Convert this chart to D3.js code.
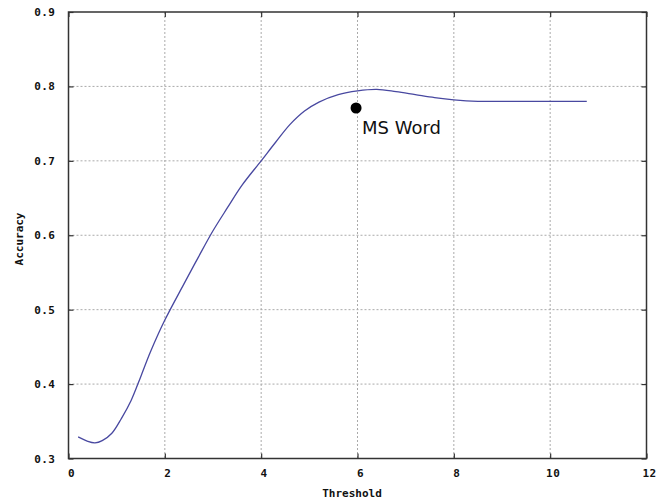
<!DOCTYPE html>
<html>
<head>
<meta charset="utf-8">
<script src="https://cdn.jsdelivr.net/npm/d3@7"></script>
<style>
  body { margin: 0; background: #fff; }
  .tick text { font-family: "DejaVu Sans Mono", monospace; font-weight: bold; font-size: 11px; fill: #111; letter-spacing: 0.5px; }
  .axis-label { font-family: "DejaVu Sans Mono", monospace; font-weight: bold; font-size: 11px; fill: #111; }
</style>
</head>
<body>
<div id="chart"></div>
<script>
// threshold vs accuracy
const thresholds = [0.2, 0.4, 0.55, 0.7, 0.9, 1.1, 1.3, 1.5, 1.7, 2.0, 2.4, 2.7, 3.0, 3.3, 3.6, 4.0,
                    4.3, 4.6, 4.9, 5.2, 5.6, 6.0, 6.4, 6.8, 7.2, 7.6, 8.0, 8.5, 9.0, 10.76];
const accuracy = [0.329, 0.323, 0.321, 0.324, 0.334, 0.354, 0.378, 0.410, 0.443, 0.486, 0.535, 0.571, 0.606,
                  0.637, 0.667, 0.700, 0.725, 0.749, 0.767, 0.779, 0.789, 0.794, 0.796, 0.793, 0.789, 0.785,
                  0.782, 0.780, 0.780, 0.780];

const msWord = { x: 5.97, y: 0.771, label: 'MS Word' };

const xTicks = [0, 2, 4, 6, 8, 10, 12];
const yTicks = [0.3, 0.4, 0.5, 0.6, 0.7, 0.8, 0.9];

const width = 670, height = 499;
const margins = { top: 12, right: 23.5, bottom: 40.5, left: 68.5 };
const plotWidth = width - margins.left - margins.right;
const plotHeight = height - margins.top - margins.bottom;

const svg = d3.select('#chart').append('svg')
    .attr('width', width)
    .attr('height', height);

const plotArea = svg.append('g')
    .attr('transform', `translate(${margins.left},${margins.top})`);

const x = d3.scaleLinear().domain([0, 12]).range([0, plotWidth]);
const y = d3.scaleLinear().domain([0.3, 0.9]).range([plotHeight, 0]);

// dotted grid
plotArea.append('g')
    .selectAll('line.vgrid')
    .data(xTicks.slice(1, -1))
    .join('line')
    .attr('x1', d => x(d)).attr('x2', d => x(d))
    .attr('y1', 0).attr('y2', plotHeight)
    .attr('stroke', '#aaa')
    .attr('stroke-dasharray', '2,2');

plotArea.append('g')
    .selectAll('line.hgrid')
    .data(yTicks.slice(1, -1))
    .join('line')
    .attr('x1', 0).attr('x2', plotWidth)
    .attr('y1', d => y(d)).attr('y2', d => y(d))
    .attr('stroke', '#aaa')
    .attr('stroke-dasharray', '2,2');

// axes with inward ticks, mirrored on top / right
const bottomAxis = plotArea.append('g')
    .attr('transform', `translate(0,${plotHeight})`)
    .call(d3.axisBottom(x).tickValues(xTicks).tickSize(-5).tickPadding(11).tickFormat(d3.format('d')));
bottomAxis.selectAll('.tick text').attr('dx', '2.5');

plotArea.append('g')
    .call(d3.axisLeft(y).tickValues(yTicks).tickSize(-5).tickPadding(13).tickFormat(d3.format('.1f')));

plotArea.append('g')
    .call(d3.axisTop(x).tickValues(xTicks).tickSize(-5).tickFormat(''));

plotArea.append('g')
    .attr('transform', `translate(${plotWidth},0)`)
    .call(d3.axisRight(y).tickValues(yTicks).tickSize(-5).tickFormat(''));

plotArea.selectAll('.domain').remove();
plotArea.selectAll('.tick line').attr('stroke', '#333').attr('stroke-width', 1.2);

plotArea.append('rect')
    .attr('width', plotWidth)
    .attr('height', plotHeight)
    .attr('fill', 'none')
    .attr('stroke', '#333')
    .attr('stroke-width', 1.5);

// curve
const line = d3.line()
    .x((d, i) => x(thresholds[i]))
    .y(d => y(d))
    .curve(d3.curveCatmullRom.alpha(0.5));

plotArea.append('path')
    .datum(accuracy)
    .attr('fill', 'none')
    .attr('stroke', '#4848a0')
    .attr('stroke-width', 1.3)
    .attr('d', line);

// MS Word point
plotArea.append('circle')
    .attr('cx', x(msWord.x))
    .attr('cy', y(msWord.y))
    .attr('r', 5.5)
    .attr('fill', '#000');

plotArea.append('text')
    .attr('x', x(msWord.x) + 6)
    .attr('y', y(msWord.y) + 26)
    .attr('font-family', '"DejaVu Sans", sans-serif')
    .attr('font-size', 18)
    .attr('fill', '#111')
    .text(msWord.label);

// axis labels
svg.append('text')
    .attr('class', 'axis-label')
    .attr('text-anchor', 'middle')
    .attr('x', 352)
    .attr('y', 497)
    .text('Threshold');

svg.append('text')
    .attr('class', 'axis-label')
    .attr('text-anchor', 'middle')
    .attr('transform', 'rotate(-90)')
    .attr('x', -239)
    .attr('y', 23)
    .text('Accuracy');
</script>
</body>
</html>
